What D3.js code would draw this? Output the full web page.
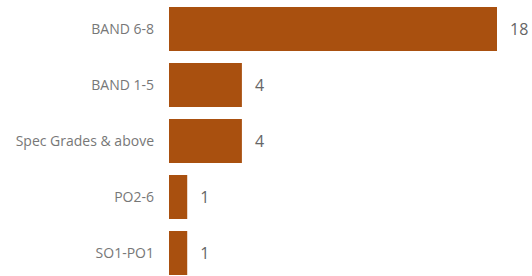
<!DOCTYPE html>
<html>
<head>
<meta charset="utf-8">
<script src="https://cdn.jsdelivr.net/npm/d3@7"></script>
<style>
  body { margin: 0; background: #fff; }
  svg { display: block; }
</style>
</head>
<body>
<svg class="chart"></svg>
<script>
var width = 532;
var height = 276;

var categories = ["BAND 6-8", "BAND 1-5", "Spec Grades & above", "PO2-6", "SO1-PO1"];
var values = [18, 4, 4, 1, 1];

var x = d3.scaleLinear()
    .domain([0, 18])
    .range([169, 497]);

var y = d3.scaleBand()
    .domain(categories)
    .range([1, 281])
    .paddingInner(12 / 56)
    .paddingOuter(6 / 56);

var chart = d3.select(".chart")
    .attr("width", width)
    .attr("height", height);

chart.selectAll("rect")
    .data(values)
    .enter().append("rect")
    .attr("x", x(0))
    .attr("y", function(d, i) { return y(categories[i]); })
    .attr("width", function(d) { return x(d) - x(0); })
    .attr("height", y.bandwidth())
    .attr("fill", "#a9500f");

// category labels
chart.selectAll(".cat")
    .data(categories)
    .enter().append("text")
    .attr("class", "cat")
    .attr("x", 154)
    .attr("y", function(d) { return y(d) + y.bandwidth() / 2; })
    .attr("dy", "0.35em")
    .attr("text-anchor", "end")
    .style("font-family", "'Segoe UI', 'Open Sans', sans-serif")
    .style("font-size", "14px")
    .style("fill", "#777")
    .text(function(d) { return d; });

// value labels
chart.selectAll(".val")
    .data(values)
    .enter().append("text")
    .attr("class", "val")
    .attr("x", function(d) { return x(d) + 13; })
    .attr("y", function(d, i) { return y(categories[i]) + y.bandwidth() / 2; })
    .attr("dy", "0.35em")
    .style("font-family", "'Segoe UI', 'Open Sans', sans-serif")
    .style("font-size", "16px")
    .style("fill", "#666")
    .text(function(d) { return d; });
</script>
</body>
</html>
